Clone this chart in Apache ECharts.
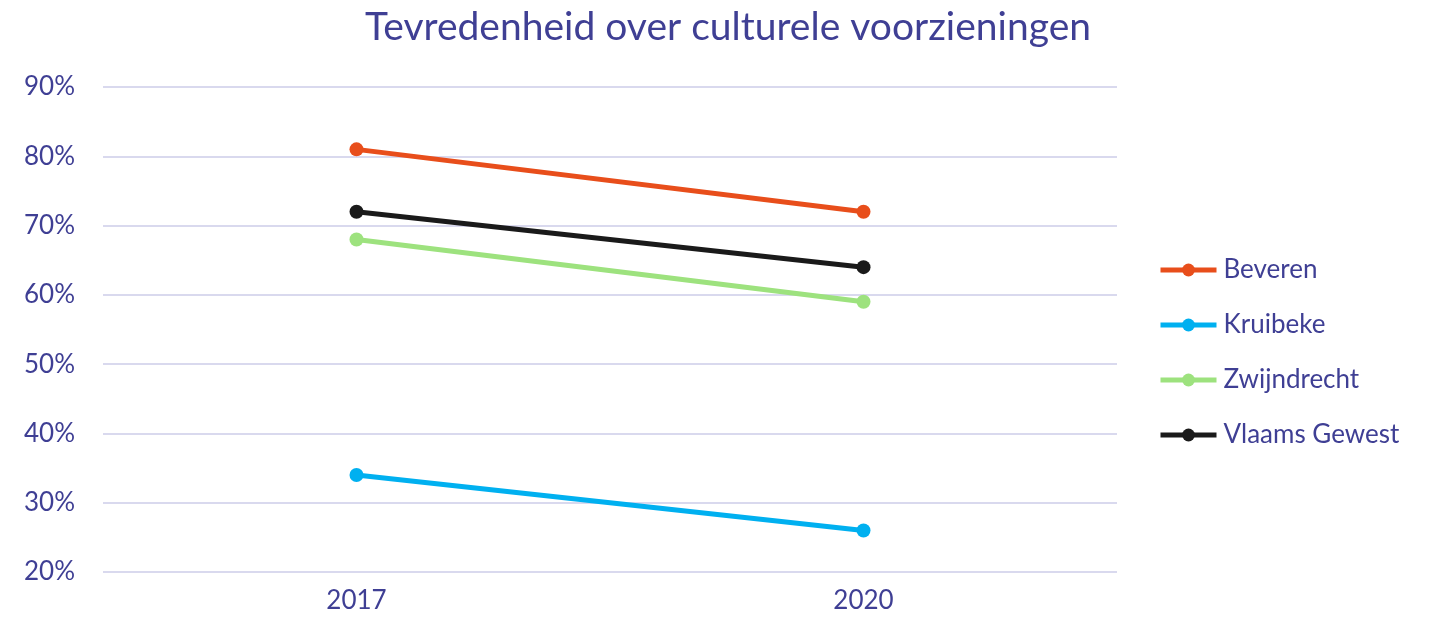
<!DOCTYPE html>
<html>
<head>
<meta charset="utf-8">
<script src="https://cdn.jsdelivr.net/npm/echarts@6/dist/echarts.min.js"></script>
<style>
  html, body { margin: 0; padding: 0; background: #fff; }
  #chart { width: 1445px; height: 626px; }
</style>
</head>
<body>
<div id="chart"></div>
<script>
  // data
  var years = ['2017', '2020']
  var beveren = [81, 72]
  var kruibeke = [34, 26]
  var zwijndrecht = [68, 59]
  var vlaamsGewest = [72, 64]
  var seriaName = ['Beveren', 'Kruibeke', 'Zwijndrecht', 'Vlaams Gewest']
  var colorPalette = ['#e84e1b', '#00b0f0', '#9de27e', '#1a1a1a']

  var textColor = '#3f3f94'
  var fontName = 'Lato'

  var chart = echarts.init(document.getElementById('chart'))
  var values = [beveren, kruibeke, zwijndrecht, vlaamsGewest]
  var seriesTemp = []
  for (var i in seriaName) {
    seriesTemp.push({
      name: seriaName[i],
      type: 'line',
      data: values[i],
      symbol: 'circle',
      symbolSize: 14,
      lineStyle: { width: 5 },
      emphasis: { disabled: true }
    })
  }

  var options = {
    animation: false,
    color: colorPalette,
    title: {
      text: 'Tevredenheid over culturele voorzieningen',
      left: 723,
      top: 3,
      textAlign: 'center',
      textStyle: { color: textColor, fontSize: 39, fontWeight: 'normal', fontFamily: fontName }
    },
    legend: {
      orient: 'vertical',
      left: 1158,
      top: 257,
      padding: 0,
      itemWidth: 56,
      itemHeight: 16,
      itemGap: 29,
      lineStyle: { width: 5 },
      textStyle: { color: textColor, fontSize: 26, fontFamily: fontName, padding: [0, 0, 0, 2] },
      data: seriaName
    },
    grid: {
      left: 103,
      right: 328,
      top: 87,
      bottom: 54
    },
    xAxis: {
      type: 'category',
      data: years,
      boundaryGap: true,
      axisLine: { show: false },
      axisTick: { show: false },
      axisLabel: { color: textColor, fontSize: 26, fontFamily: fontName, margin: 16 }
    },
    yAxis: {
      type: 'value',
      min: 20,
      max: 90,
      interval: 10,
      axisLine: { show: false },
      axisTick: { show: false },
      axisLabel: { color: textColor, fontSize: 26, fontFamily: fontName, margin: 28, formatter: '{value}%' },
      splitLine: { lineStyle: { color: '#d9d9ee', width: 2 } }
    },
    series: seriesTemp
  }
  chart.setOption(options)
</script>
</body>
</html>
